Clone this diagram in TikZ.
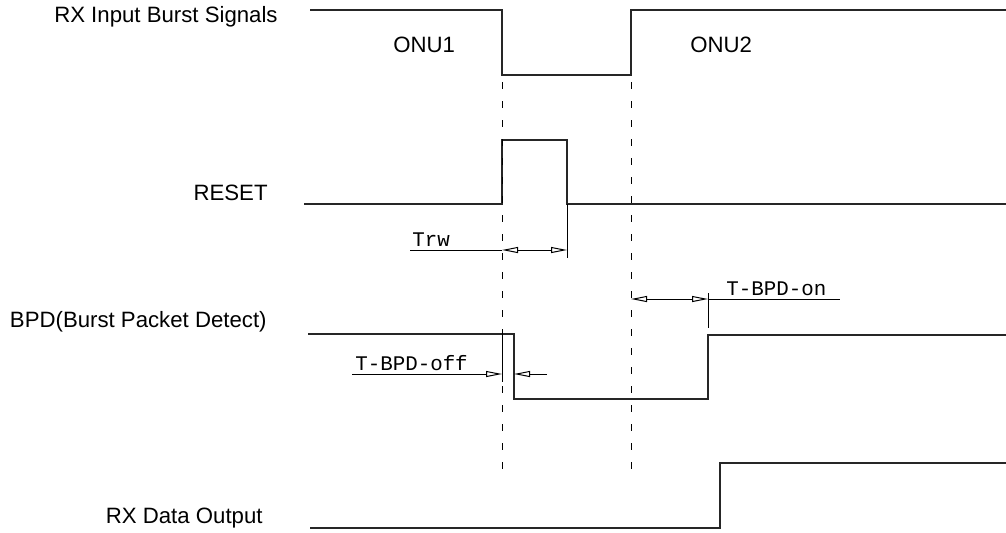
\documentclass[tikz,border=0pt]{standalone}
\usepackage{fontspec}
\setmainfont{Liberation Sans}
\newfontfamily\cadfont{Liberation Mono}
\usetikzlibrary{arrows.meta}
\begin{document}
\begin{tikzpicture}[x=0.5pt,y=-0.5pt,
  signal/.style={line width=0.6pt,color=black!85},
  guide/.style={line width=0.5pt,dash pattern=on 3.5pt off 6pt},
  dimline/.style={line width=0.5pt},
  dimtip/.style={line width=0.5pt,arrows={-Triangle[open,length=8pt,width=3pt]}},
  lbl/.style={font=\fontsize{11.1}{13}\selectfont,inner sep=0pt},
  dimlbl/.style={font=\cadfont\fontsize{10.4}{12}\selectfont,inner sep=0pt,anchor=south west}]
  \useasboundingbox (0,0) rectangle (1006,532);

  % signal names
  \node[lbl,anchor=east] (rxin) at (278,17) {RX Input Burst Signals};
  \node[lbl,anchor=east] (reset) at (268,193) {RESET};
  \node[lbl,anchor=east] (bpd) at (267,322) {BPD(Burst Packet Detect)};
  \node[lbl,anchor=east] (rxout) at (263,518) {RX Data Output};
  \node[lbl,anchor=west] (onua) at (393,45) {ONU1};
  \node[lbl,anchor=west] (onub) at (690,45) {ONU2};

  % waveforms
  \draw[signal] (310,10) -- ++(192,0) -- ++(0,65) -- ++(129,0) -- ++(0,-65) -- (1006,10);
  \draw[signal] (304,204) -- ++(198,0) -- ++(0,-64) -- ++(65,0) -- ++(0,64) -- (1006,204);
  \draw[signal] (308,334) -- ++(206,0) -- ++(0,65) -- ++(194,0) -- ++(0,-64) -- (1006,335);
  \draw[signal] (310,528) -- ++(410,0) -- ++(0,-65) -- (1006,463);

  % timing guides
  \coordinate (ga) at (502,82);
  \coordinate (gb) at (631,82);
  \draw[guide] (ga) -- (502,478);
  \draw[guide] (gb) -- (631,478);
  \draw[dimline] (567,204) -- (567,258);
  \draw[dimline] (502,332) -- (502,382);
  \draw[dimline] (708,293) -- (708,328);

  % Trw
  \draw[dimline] (410,250) -- (502,250);
  \draw[dimtip] (534,250) -- (502,250);
  \draw[dimtip] (534,250) -- (567,250);
  \node[dimlbl] (trw) at (412,247) {Trw};

  % T-BPD-off
  \draw[dimtip] (352,374) -- (502,374);
  \draw[dimtip] (547,374) -- (514,374);
  \node[dimlbl] (toff) at (355,371) {T-BPD-off};

  % T-BPD-on
  \draw[dimtip] (670,299) -- (631,299);
  \draw[dimtip] (670,299) -- (708,299);
  \draw[dimline] (708,299) -- (840,299);
  \node[dimlbl] (ton) at (726,296) {T-BPD-on};
\end{tikzpicture}
\end{document}
